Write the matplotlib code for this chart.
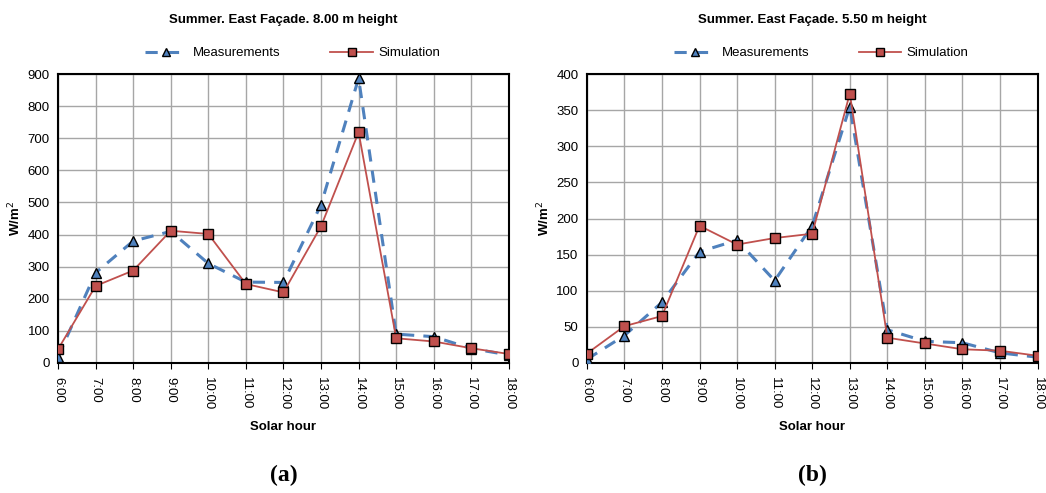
import matplotlib
matplotlib.use('Agg')
import matplotlib.pyplot as plt

plt.rcParams['font.family'] = ['Liberation Sans', 'DejaVu Sans']

hours = ['6:00', '7:00', '8:00', '9:00', '10:00', '11:00', '12:00',
         '13:00', '14:00', '15:00', '16:00', '17:00', '18:00']

# 8.00 m height
meas_a = [20, 281, 380, 410, 310, 252, 251, 493, 887, 90, 82, 45, 25]
sim_a = [43, 240, 288, 412, 402, 246, 220, 426, 719, 77, 67, 46, 28]

# 5.50 m height
meas_b = [5, 38, 84, 154, 170, 114, 190, 355, 46, 30, 28, 14, 8]
sim_b = [13, 51, 65, 190, 164, 173, 179, 373, 35, 27, 19, 17, 10]

panels = [
    ('Summer. East Façade. 8.00 m height', meas_a, sim_a, 900, 100, '(a)'),
    ('Summer. East Façade. 5.50 m height', meas_b, sim_b, 400, 50, '(b)'),
]

blue = '#4f81bd'
red = '#c0504d'

fig = plt.figure(figsize=(10.46, 4.93), dpi=100)
lefts = [0.0555, 0.561]

for left, (title, meas, sim, ymax, step, tag) in zip(lefts, panels):
    ax = fig.add_axes([left, 0.2637, 0.431, 0.586])
    x = list(range(len(hours)))
    ax.plot(x, meas, ls=(0, (4, 3)), color=blue, lw=2.2, marker='^',
            ms=7.5, mfc=blue, mec='black', mew=1.0, label='Measurements', zorder=3)
    ax.plot(x, sim, color=red, lw=1.3, marker='s', ms=7.5, mfc=red,
            mec='black', mew=1.0, label='Simulation', zorder=4)

    ax.set_xlim(0, len(hours) - 1)
    ax.set_ylim(0, ymax)
    ax.set_yticks(range(0, ymax + 1, step))
    ax.set_xticks(x)
    ax.set_xticklabels(hours, rotation=270, fontsize=9.5)
    ax.tick_params(axis='y', labelsize=9.5, length=0, pad=6)
    ax.tick_params(axis='x', length=4, direction='out', pad=6)
    ax.grid(True, color='#a6a6a6', lw=1.0)
    ax.set_axisbelow(True)
    for s in ax.spines.values():
        s.set_color('black')
        s.set_linewidth(1.5)

    ax.set_ylabel('W/m$^2$', fontsize=9.5, fontweight='bold', labelpad=3)
    ax.set_xlabel('Solar hour', fontsize=9.5, fontweight='bold', labelpad=8)
    ax.set_title(title, fontsize=9.5, fontweight='bold', pad=37)

    ax.legend(loc='lower center', bbox_to_anchor=(0.52, 1.01), ncol=2,
              frameon=False, fontsize=9.5, columnspacing=3.8, handlelength=3.2,
              handletextpad=0.4, markerscale=0.7)

    fig.text(left + 0.431 / 2, 0.035, tag, ha='center', va='center',
             fontsize=17, fontweight='bold', family='Liberation Serif')

fig.savefig('out.png', dpi=100, facecolor='white')
